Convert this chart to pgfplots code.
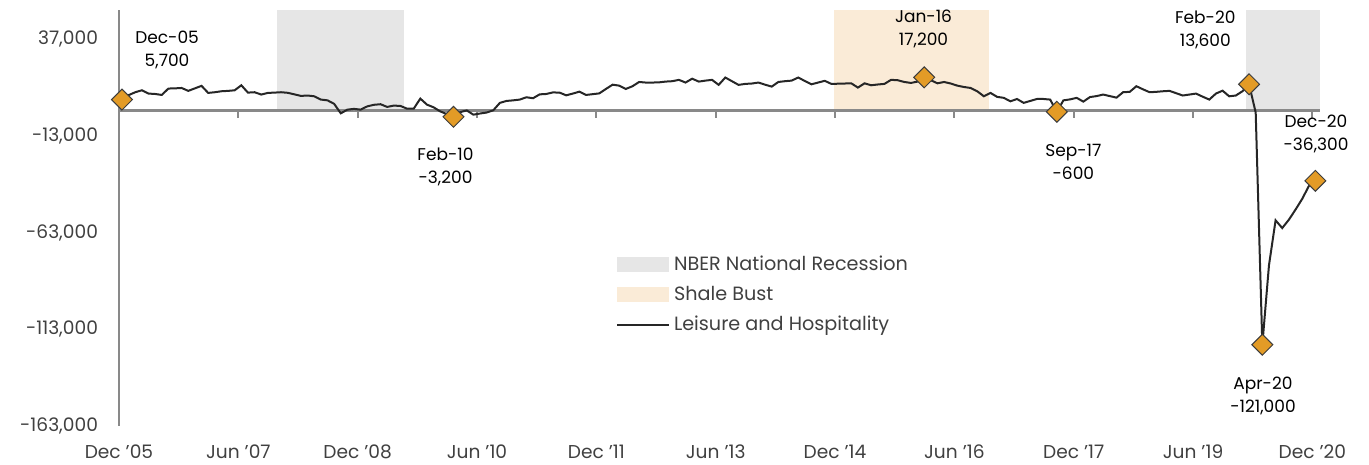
\documentclass[border=0pt]{standalone}
\usepackage{pgfplots}
\pgfplotsset{compat=1.18}
\usepackage{fontspec}
\setmainfont{Poppins}
\definecolor{recgray}{RGB}{230,230,230}
\definecolor{shale}{RGB}{250,235,215}
\definecolor{linec}{RGB}{38,38,38}
\definecolor{mk}{RGB}{227,155,38}
\definecolor{mkout}{RGB}{60,60,60}
\definecolor{axgray}{RGB}{137,137,137}
\definecolor{txt}{RGB}{64,64,64}
\begin{document}
\begin{tikzpicture}
\useasboundingbox (-59.5pt,-19.5pt) rectangle (625pt,213pt);
\begin{axis}[
  at={(0,0)}, anchor=south west,
  scale only axis, width=600.5pt, height=208pt,
  xmin=-0.45, xmax=180.7, ymin=-163000, ymax=52000,
  axis x line*=bottom, axis y line*=left,
  x axis line style={draw=none},
  y axis line style={draw=axgray, line width=1.2pt, -},
  xtick={-0.45,17.55,35.55,53.55,71.55,89.55,107.55,125.55,143.55,161.55,179.55},
  xticklabels={Dec '05,Jun '07,Dec '08,Jun '10,Dec '11,Jun '13,Dec '14,Jun '16,Dec '17,Jun '19,Dec '20},
  ytick={-163000,-113000,-63000,-13000,37000},
  yticklabels={{-163,000},{-113,000},{-63,000},{-13,000},{37,000}},
  tick style={draw=none},
  xticklabel style={font=\fontsize{9.3}{11}\selectfont, text=txt, yshift=-6pt},
  yticklabel style={font=\fontsize{9.3}{11}\selectfont, text=txt, xshift=-7pt},
  legend style={draw=none, fill=none, at={(axis description cs:0.4135,0.42)}, anchor=north west,
    font=\fontsize{9.6}{11}\selectfont, text=txt, row sep=2.3pt, inner sep=0pt},
  legend cell align=left,
  clip=false,
]
\addplot[fill=recgray, draw=none, legend image code/.code={\fill[recgray] (0pt,-3.75pt) rectangle (26pt,3.75pt);}]
  coordinates {(23.4,0) (23.4,52000) (42.6,52000) (42.6,0)} -- cycle;
\addlegendentry{NBER National Recession}
\addplot[fill=shale, draw=none, legend image code/.code={\fill[shale] (0pt,-3.75pt) rectangle (26pt,3.75pt);}]
  coordinates {(107.4,0) (107.4,52000) (130.7,52000) (130.7,0)} -- cycle;
\addlegendentry{Shale Bust}
\addplot[fill=recgray, draw=none, forget plot]
  coordinates {(169.5,0) (169.5,52000) (180.7,52000) (180.7,0)} -- cycle;
\draw[axgray, line width=1.2pt] (axis cs:-0.45,0) -- (axis cs:180.7,0);
\pgfplotsinvokeforeach{17.55,35.55,53.55,71.55,89.55,107.55,125.55,143.55,161.55,179.55}{
  \draw[axgray, line width=1pt] (axis cs:#1,0) -- ++(0pt,-3.5pt);
}
\addplot[linec, line width=1pt, mark=none, legend image code/.code={\draw[linec, line width=1pt] (0pt,0pt) -- (26pt,0pt);}]
  table[row sep=\\] {
x y\\
0 5700\\ 1 8000\\ 2 9500\\ 3 10500\\ 4 8800\\ 5 8600\\ 6 8100\\ 7 11400\\ 8 11500\\ 9 11700\\
10 10200\\ 11 11500\\ 12 12800\\ 13 9150\\ 14 9500\\ 15 10000\\ 16 10200\\ 17 10500\\ 18 13100\\ 19 9300\\
20 9500\\ 21 8300\\ 22 9150\\ 23 9300\\ 24 9500\\ 25 9200\\ 26 8400\\ 27 7600\\ 28 7800\\ 29 7400\\
30 5700\\ 31 5300\\ 32 3500\\ 33 -1400\\ 34 500\\ 35 900\\ 36 500\\ 37 2200\\ 38 3000\\ 39 3300\\
40 1900\\ 41 2600\\ 42 2400\\ 43 1000\\ 44 1000\\ 45 6200\\ 46 3100\\ 47 1700\\ 48 -400\\ 49 -1800\\
50 -3200\\ 51 -800\\ 52 100\\ 53 -2100\\ 54 -1500\\ 55 -1000\\ 56 150\\ 57 4000\\ 58 5000\\ 59 5300\\
60 5700\\ 61 6900\\ 62 6400\\ 63 8400\\ 64 8600\\ 65 9400\\ 66 9300\\ 67 7900\\ 68 8800\\ 69 9800\\
70 8100\\ 71 8500\\ 72 8900\\ 73 11200\\ 74 13400\\ 75 12900\\ 76 11200\\ 77 12600\\ 78 14800\\ 79 14500\\
80 14500\\ 81 14600\\ 82 15000\\ 83 15200\\ 84 15900\\ 85 14500\\ 86 16500\\ 87 15000\\ 88 15500\\ 89 15900\\
90 13300\\ 91 17100\\ 92 15200\\ 93 13300\\ 94 13800\\ 95 14000\\ 96 14500\\ 97 13400\\ 98 12400\\ 99 14800\\
100 15200\\ 101 15500\\ 102 17100\\ 103 15300\\ 104 13600\\ 105 14500\\ 106 15400\\ 107 13800\\ 108 13900\\ 109 14000\\
110 14100\\ 111 11900\\ 112 14100\\ 113 13100\\ 114 13500\\ 115 13800\\ 116 15900\\ 117 15700\\ 118 14800\\ 119 14300\\
120 15000\\ 121 17200\\ 122 15700\\ 123 14100\\ 124 14800\\ 125 14000\\ 126 12900\\ 127 12200\\ 128 11700\\ 129 10000\\
130 7400\\ 131 9150\\ 132 7100\\ 133 6600\\ 134 4800\\ 135 6000\\ 136 4000\\ 137 5000\\ 138 6000\\ 139 6000\\
140 5700\\ 141 -600\\ 142 5300\\ 143 5800\\ 144 6600\\ 145 4650\\ 146 7000\\ 147 7500\\ 148 8300\\ 149 7500\\
150 6700\\ 151 9500\\ 152 9700\\ 153 12600\\ 154 11000\\ 155 9500\\ 156 9700\\ 157 10000\\ 158 10200\\ 159 9000\\
160 7800\\ 161 8300\\ 162 8800\\ 163 7200\\ 164 5700\\ 165 8800\\ 166 10300\\ 167 7400\\ 168 7800\\ 169 10000\\
170 13600\\ 171 -1000\\ 172 -121000\\ 173 -80000\\ 174 -56700\\ 175 -60700\\ 176 -56400\\ 177 -51200\\ 178 -45700\\ 179 -39100\\
180 -36300\\
};
\addlegendentry{Leisure and Hospitality}
\addplot[only marks, mark=square*, mark size=3.7pt, mark options={rotate=45, fill=mk, draw=mkout, line width=0.5pt}, forget plot]
  coordinates {(0,5700) (50,-3200) (121,17200) (141,-600) (170,13600) (172,-121000) (180,-36300)};
\begin{scope}[every node/.style={align=center, inner sep=0pt, font=\fontsize{8.5}{11.5}\selectfont, text=black}]
\node at (axis cs:6.8,31280) {Dec-05\\5,700};
\node at (axis cs:48.8,-29200) {Feb-10\\-3,200};
\node at (axis cs:120.9,42400) {Jan-16\\17,200};
\node at (axis cs:143.5,-26400) {Sep-17\\-600};
\node at (axis cs:163.4,41900) {Feb-20\\13,600};
\node at (axis cs:180.1,-12150) {Dec-20\\-36,300};
\node at (axis cs:172.1,-147600) {Apr-20\\-121,000};
\end{scope}
\end{axis}
\end{tikzpicture}
\end{document}
